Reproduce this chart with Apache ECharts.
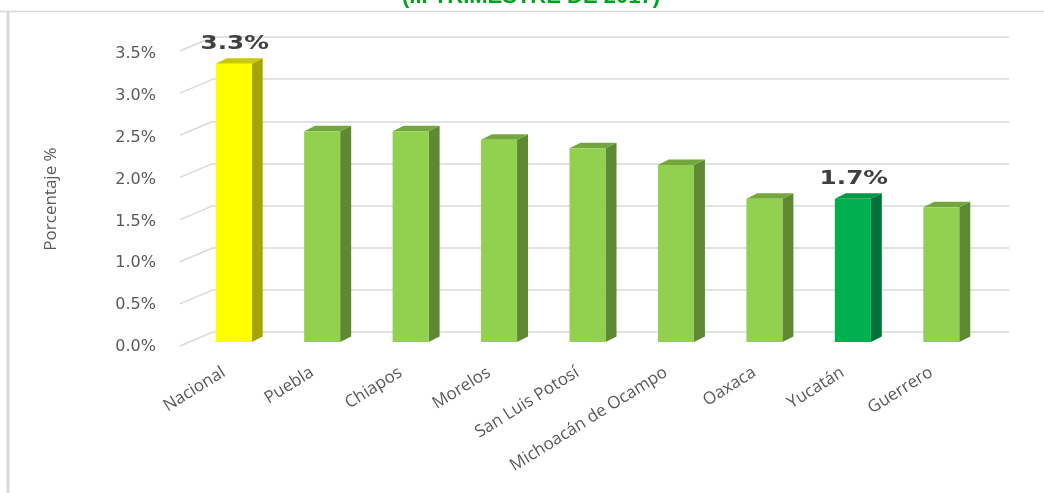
<!DOCTYPE html>
<html><head><meta charset="utf-8">
<script src="https://cdn.jsdelivr.net/npm/echarts@6/dist/echarts.min.js"></script>
<style>html,body{margin:0;padding:0;background:#fff}#c{width:1044px;height:493px}</style>
</head><body><div id="c"></div>
<script>
const titleText = '(III TRIMESTRE DE 2017)';
const yAxisTitle = 'Porcentaje %';
const categories = ['Nacional','Puebla','Chiapos','Morelos','San Luis Potosí','Michoacán de Ocampo','Oaxaca','Yucatán','Guerrero'];
const values = [3.3, 2.5, 2.5, 2.4, 2.3, 2.1, 1.7, 1.7, 1.6];
const barKind = ['nacional','estado','estado','estado','estado','estado','estado','yucatan','estado'];
const labeled = [true,false,false,false,false,false,false,true,false];
const yTicks = [0, 0.5, 1, 1.5, 2, 2.5, 3, 3.5];

const palette = {
  nacional: {front:'#FFFF00', side:'#A6A600', top:'#C9C900'},
  estado:   {front:'#92D050', side:'#5F8832', top:'#74A63E'},
  yucatan:  {front:'#00B050', side:'#00733A', top:'#009844'}
};

function renderBar(params, api){
  const i = api.value(0), v = api.value(1);
  const top = api.coord([i, v]), base = api.coord([i, 0]);
  const band = api.size([1, 0])[0];
  const w = band * 0.407, dx = 11, dy = 5.5;
  const x0 = top[0] - w/2, x1 = top[0] + w/2, yT = top[1], yB = base[1];
  const c = palette[barKind[i]];
  const children = [
    {type:'polygon', shape:{points:[[x1,yT],[x1+dx,yT-dy],[x1+dx,yB-dy],[x1,yB]]}, style:{fill:c.side}},
    {type:'polygon', shape:{points:[[x0,yT],[x0+dx,yT-dy],[x1+dx,yT-dy],[x1,yT]]}, style:{fill:c.top}},
    {type:'rect', shape:{x:x0, y:yT, width:w, height:yB-yT}, style:{fill:c.front}}
  ];
  if (labeled[i]) {
    children.push({type:'text', x: top[0] + 1, y: yT - 20, scaleX: 1.3,
      style:{text: v.toFixed(1) + '%', x:0, y:0, align:'center', verticalAlign:'middle',
        textAlign:'center', textVerticalAlign:'middle',
        font:'bold 19px "DejaVu Sans"', fill:'#404040'}});
  }
  return {type:'group', children};
}

function renderSlant(params, api){
  const p = api.coord([0, api.value(1)]);
  const left = params.coordSys.x;
  return {type:'line', shape:{x1:left-33, y1:p[1]+14, x2:left, y2:p[1]},
    style:{stroke:'#D9D9D9', lineWidth:1.5}};
}

const chart = echarts.init(document.getElementById('c'));
chart.setOption({
  animation:false,
  backgroundColor:'#ffffff',
  grid:[
    {left:189.5, right:58.5, top:47, bottom:151},
    {left:213, right:35, top:37, bottom:161},
    {left:179.5, right:68.5, top:54, bottom:146}
  ],
  xAxis:[
    {type:'category', gridIndex:0, data:categories, show:false},
    {type:'value', gridIndex:1, min:0, max:1, show:false},
    {type:'category', gridIndex:2, data:categories,
      axisLine:{show:false}, axisTick:{show:false},
      axisLabel:{interval:0, rotate:32, margin:24, color:'#595959', fontSize:17, fontFamily:'Open Sans'}}
  ],
  yAxis:[
    {type:'value', gridIndex:0, min:0, max:3.5, interval:0.5, show:false},
    {type:'value', gridIndex:1, min:0, max:3.5, interval:0.5,
      axisLine:{show:false}, axisTick:{show:false}, axisLabel:{show:false},
      splitLine:{lineStyle:{color:'#D9D9D9', width:1.5}}},
    {type:'value', gridIndex:2, min:0, max:3.5, interval:0.5,
      axisLine:{show:false}, axisTick:{show:false}, splitLine:{show:false},
      axisLabel:{margin:23.5, color:'#595959', fontSize:16, fontFamily:'DejaVu Sans',
        formatter: v => v.toFixed(1) + '%'}}
  ],
  series:[
    {type:'custom', xAxisIndex:1, yAxisIndex:1, data: yTicks.map(v => [0, v]),
      renderItem: renderSlant, silent:true, z:1},
    {type:'custom', xAxisIndex:0, yAxisIndex:0, data: values.map((v, i) => [i, v]),
      renderItem: renderBar, z:3}
  ],
  graphic:[
    {type:'line', shape:{x1:0, y1:11.5, x2:1044, y2:11.5}, style:{stroke:'#D9D9D9', lineWidth:1.5}},
    {type:'line', shape:{x1:8, y1:11, x2:8, y2:493}, style:{stroke:'#D9D9D9', lineWidth:3}},
    {type:'text', x:531, y:8, style:{text:titleText, textAlign:'center', textVerticalAlign:'bottom',
      font:'bold 22px "Liberation Sans"', fill:'#00A21E'}},
    {type:'text', x:51, y:199, rotation:Math.PI/2, style:{text:yAxisTitle, textAlign:'center',
      textVerticalAlign:'middle', font:'17px "Open Sans"', fill:'#595959'}}
  ]
});
</script></body></html>
